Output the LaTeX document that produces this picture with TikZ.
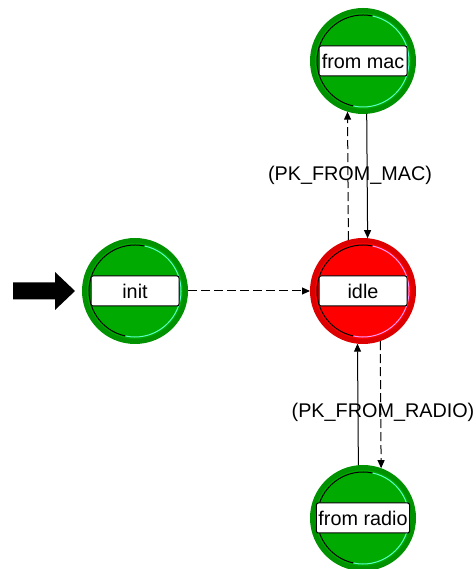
\documentclass[tikz,border=0pt]{standalone}
\usepackage{fontspec}
\setmainfont{Liberation Sans}
\usetikzlibrary{arrows.meta,calc}
\definecolor{gfill}{RGB}{0,170,0}
\definecolor{gring}{RGB}{0,146,0}
\definecolor{glight}{RGB}{90,255,200}
\definecolor{rfill}{RGB}{255,0,0}
\definecolor{rring}{RGB}{222,0,0}
\definecolor{rlight}{RGB}{255,150,255}
\newcommand\lblfont{\fontsize{19.8}{23}\selectfont}
\newcommand\bevelarc[2]{%
  \draw[black, line width=1pt] (#1.center) ++(78:46) arc (78:258:46);
  \draw[#2, line width=1pt] (#1.center) ++(258:46) arc (258:438:46);}
\tikzset{
  statenode/.style={circle, minimum size=101pt, inner sep=0pt, line width=5pt},
  gstate/.style={statenode, draw=gring, fill=gfill},
  rstate/.style={statenode, draw=rring, fill=rfill},
  lblbox/.style={draw=black, fill=white, line width=1pt, rounded corners=2pt,
    minimum width=88pt, minimum height=30pt, inner xsep=2pt, inner ysep=0pt, font=\lblfont},
  trlbl/.style={inner sep=0pt, font=\lblfont},
  conn/.style={line width=1pt, -{Triangle[length=8pt,width=7pt]}},
  dconn/.style={conn, dash pattern=on 9pt off 4pt},
}
\begin{document}
\begin{tikzpicture}[x=1pt,y=1pt]
\useasboundingbox (0,0) rectangle (475,569);
% states
\node[gstate] (init) at (135,278) {};
\node[rstate] (idle) at (363,278) {};
\node[gstate] (frommac) at (363,508) {};
\node[gstate] (fromradio) at (363,51) {};
\bevelarc{init}{glight}
\bevelarc{idle}{rlight}
\bevelarc{frommac}{glight}
\bevelarc{fromradio}{glight}
% labels
\node[lblbox] (initl) at (init.center) {init};
\node[lblbox] (idlel) at (idle.center) {idle};
\node[lblbox] (frommacl) at (frommac.center) {from mac};
\node[lblbox] (fromradiol) at (fromradio.center) {from radio};
% transitions
\draw[dconn] (init.east) -- (idle.west);
\draw[dconn] (idle.106.4) -- (frommac.253.6);
\draw[conn] (frommac.274.3) -- (idle.85.7);
\draw[dconn] (idle.289.9) -- (fromradio.70.1);
\draw[conn] (fromradio.95.4) -- (idle.264.6);
\node[trlbl] (macl) at (350,394) {(PK\_FROM\_MAC)};
\node[trlbl] (radiol) at (383,157) {(PK\_FROM\_RADIO)};
% initial marker
\coordinate (tip) at ($(init.west)+(-7,0)$);
\fill[black] (tip) -- ++(-20,19) -- ++(0,-10.5) -- ++(-42,0) -- ++(0,-17) -- ++(42,0) -- ++(0,-10.5) -- cycle;
\end{tikzpicture}
\end{document}
